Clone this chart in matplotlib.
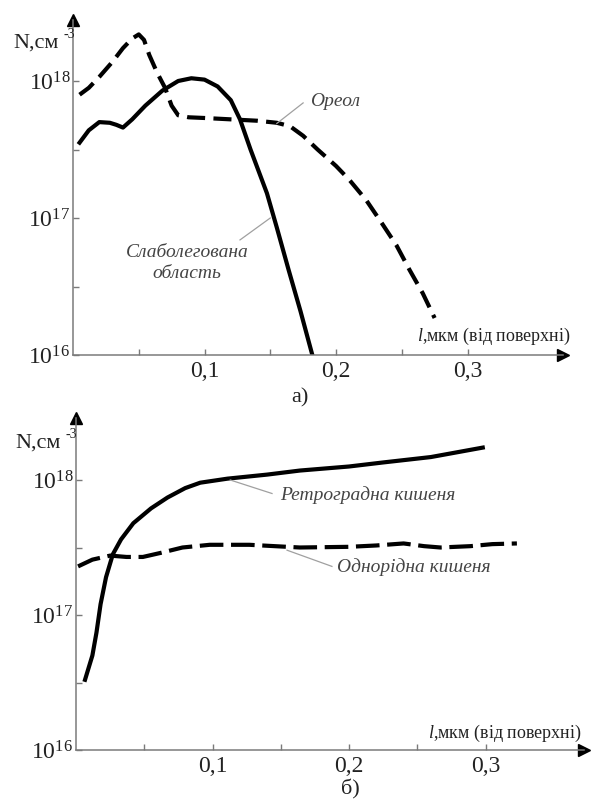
import numpy as np
import matplotlib
matplotlib.use('Agg')
import matplotlib.pyplot as plt
from matplotlib.ticker import FixedLocator, NullFormatter

plt.rcParams['font.family'] = ['Liberation Serif', 'DejaVu Serif']
plt.rcParams['mathtext.fontset'] = 'custom'
plt.rcParams['mathtext.rm'] = 'Liberation Serif'
plt.rcParams['mathtext.it'] = 'Liberation Serif:italic'
plt.rcParams['lines.scale_dashes'] = False

# ---------------- data ----------------
# panel a) : depth l (um) and log10 of concentration N (cm^-3)
halo_l = [0.005, 0.012, 0.02, 0.03, 0.038, 0.045, 0.05, 0.054, 0.058, 0.064,
          0.07, 0.075, 0.08, 0.088, 0.1, 0.12, 0.14, 0.155, 0.165, 0.175,
          0.186, 0.2, 0.21, 0.223, 0.235, 0.246, 0.256, 0.266, 0.275]
halo_log10N = [17.90, 17.95, 18.03, 18.14, 18.24, 18.31, 18.34, 18.30, 18.19, 18.06,
               17.95, 17.82, 17.75, 17.735, 17.73, 17.72, 17.71, 17.695, 17.67, 17.60,
               17.50, 17.38, 17.28, 17.13, 16.96, 16.80, 16.62, 16.45, 16.27]

lightly_l = [0.005, 0.012, 0.02, 0.028, 0.033, 0.038, 0.045, 0.055, 0.068, 0.08,
             0.09, 0.1, 0.11, 0.12, 0.127, 0.135, 0.1475, 0.155, 0.164, 0.173, 0.182]
lightly_log10N = [17.55, 17.64, 17.70, 17.695, 17.68, 17.66, 17.72, 17.82, 17.93, 18.00,
                  18.02, 18.01, 17.96, 17.86, 17.72, 17.50, 17.18, 16.93, 16.62, 16.32, 16.0]

# panel б)
retro_l = [0.0066, 0.012, 0.015, 0.018, 0.022, 0.027, 0.033, 0.042, 0.055, 0.067,
           0.08, 0.091, 0.111, 0.14, 0.164, 0.2, 0.225, 0.26, 0.298]
retro_log10N = [16.52, 16.70, 16.87, 17.08, 17.28, 17.45, 17.56, 17.68, 17.79, 17.87,
                17.94, 17.98, 18.01, 18.04, 18.07, 18.10, 18.13, 18.17, 18.24]

uniform_l = [0.0015, 0.012, 0.025, 0.037, 0.049, 0.062, 0.078, 0.098, 0.127, 0.164,
             0.2, 0.22, 0.24, 0.255, 0.267, 0.289, 0.305, 0.323]
uniform_log10N = [17.36, 17.41, 17.44, 17.43, 17.43, 17.46, 17.50, 17.52, 17.52, 17.50,
                  17.505, 17.515, 17.53, 17.51, 17.50, 17.51, 17.525, 17.53]

y_major = [1e16, 1e17, 1e18]
y_major_labels = ['10$^{16}$', '10$^{17}$', '10$^{18}$']
y_minor = [10 ** 16.5, 10 ** 17.5]
x_major = [0.1, 0.2, 0.3]
x_major_labels = ['0,1', '0,2', '0,3']
x_minor = [0.05, 0.15, 0.25]

# ---------------- figure ----------------
W, H = 597, 800
fig = plt.figure(figsize=(W / 100, H / 100), dpi=100)

AXC = '#7a7a7a'
TXTC = '#444444'


def make_axes(x0, x1, ytop, ybot, px_per_unit, px_per_decade):
    ax = fig.add_axes([x0 / W, 1 - ybot / H, (x1 - x0) / W, (ybot - ytop) / H])
    ax.set_yscale('log')
    ax.set_xlim(0, (x1 - x0) / px_per_unit)
    ax.set_ylim(1e16, 10 ** (16 + (ybot - ytop) / px_per_decade))
    for s in ('top', 'right'):
        ax.spines[s].set_visible(False)
    for s in ('left', 'bottom'):
        ax.spines[s].set_color(AXC)
        ax.spines[s].set_linewidth(1.1)
    ax.yaxis.set_major_locator(FixedLocator(y_major))
    ax.yaxis.set_minor_locator(FixedLocator(y_minor))
    ax.yaxis.set_minor_formatter(NullFormatter())
    ax.set_yticklabels(y_major_labels)
    ax.xaxis.set_major_locator(FixedLocator(x_major))
    ax.xaxis.set_minor_locator(FixedLocator(x_minor))
    ax.set_xticklabels(x_major_labels)
    ax.tick_params(which='both', direction='in', color=AXC, width=1, length=4,
                   labelsize=17, labelcolor='#222222')
    ax.tick_params(axis='x', pad=4)
    ax.tick_params(axis='y', pad=2)
    # arrow heads
    ax.plot([1], [0], marker='>', ms=9, color='black', transform=ax.transAxes, clip_on=False)
    ax.plot([0], [1], marker='^', ms=9, color='black', transform=ax.transAxes, clip_on=False)
    ax.patch.set_alpha(0)
    return ax


ax1 = make_axes(73, 563, 20, 355, 1315, 137)
ax2 = make_axes(76, 584, 418, 750, 1365, 135)

# panel a curves
ax1.plot(halo_l, 10 ** np.array(halo_log10N), color='black', lw=3,
         dashes=(13, 6), solid_capstyle='butt', dash_capstyle='butt')
ax1.plot(lightly_l, 10 ** np.array(lightly_log10N), color='black', lw=3,
         solid_joinstyle='round')

# panel б curves
ax2.plot(retro_l, 10 ** np.array(retro_log10N), color='black', lw=3,
         solid_joinstyle='round')
ax2.plot(uniform_l, 10 ** np.array(uniform_log10N), color='black', lw=3,
         dashes=(17, 5.5), dash_capstyle='butt')

# annotations panel a
LC = '#a0a0a0'
ax1.plot([0.175, 0.155], [10 ** 17.84, 10 ** 17.69], color=LC, lw=0.9)
ax1.text(0.199, 10 ** 17.85, 'Ореол', style='italic', fontsize=14, color=TXTC,
         ha='center', va='center')
ax1.plot([0.127, 0.150], [10 ** 16.84, 10 ** 17.0], color=LC, lw=0.9)
ax1.text(0.0867, 10 ** 16.75, 'Слаболегована', style='italic', fontsize=14, color=TXTC,
         ha='center', va='center')
ax1.text(0.0867, 10 ** 16.595, 'область', style='italic', fontsize=14, color=TXTC,
         ha='center', va='center')

# annotations panel б
ax2.plot([0.113, 0.1436], [10 ** 18.0, 10 ** 17.90], color=LC, lw=0.9)
ax2.text(0.1495, 10 ** 17.89, 'Ретроградна кишеня', style='italic', fontsize=14,
         color=TXTC, ha='left', va='center')
ax2.plot([0.1546, 0.1875], [10 ** 17.48, 10 ** 17.36], color=LC, lw=0.9)
ax2.text(0.191, 10 ** 17.356, 'Однорідна кишеня', style='italic', fontsize=14,
         color=TXTC, ha='left', va='center')

# axis titles
for (xl, yl, xn, yn) in [(417, 336, 13, 43), (428, 733, 15, 443)]:
    fig.text(xl / W, 1 - yl / H, r'$\mathit{l}$,мкм (від поверхні)', fontsize=13,
             color='#222222', ha='left', va='center')
    fig.text(xn / W, 1 - yn / H, 'N,см', fontsize=16, color='#222222',
             ha='left', va='center')
    fig.text((xn + 50) / W, 1 - (yn - 9) / H, '-3', fontsize=10, color='#222222',
             ha='left', va='center')

fig.text(300 / W, 1 - 398 / H, 'а)', fontsize=16, color='#222222', ha='center', va='center')
fig.text(350 / W, 1 - 789 / H, 'б)', fontsize=16, color='#222222', ha='center', va='center')

fig.savefig('out.png', dpi=100, facecolor='white')
